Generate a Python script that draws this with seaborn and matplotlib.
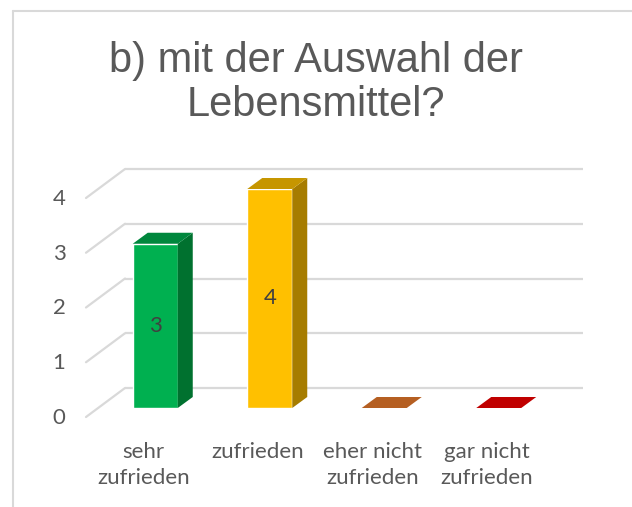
import numpy as np
import pandas as pd
import matplotlib
matplotlib.use('Agg')
import matplotlib.pyplot as plt
import seaborn as sns
from matplotlib.patches import Polygon
from matplotlib.lines import Line2D

# data
categories = ['sehr\nzufrieden', 'zufrieden', 'eher nicht\nzufrieden', 'gar nicht\nzufrieden']
values = [3, 4, 0, 0]
front_colors = ['#00B050', '#FFC000', '#C55A11', '#C00000']
top_colors = ['#00873D', '#C69600', '#B55F22', '#C00000']
side_colors = ['#00712F', '#A67C00', '#8A4010', '#900000']
y_ticks = [0, 1, 2, 3, 4]
title = 'b) mit der Auswahl der\nLebensmittel?'

sns.set_theme(style='white')
plt.rcParams['font.family'] = ['Lato', 'DejaVu Sans']

W, H = 632, 507
fig = plt.figure(figsize=(W / 100, H / 100), dpi=100)

# pixel scale of the bar plane
xu = 114.5   # px per category
yu = 54.75   # px per unit value
ymax = 4.6
ax = fig.add_axes([98 / W, (H - 408) / H, 4 * xu / W, ymax * yu / H])

df = pd.DataFrame({'cat': categories, 'val': values})
bw = 45 / xu
sns.barplot(data=df, x='cat', y='val', hue='cat', palette=front_colors,
            width=bw, saturation=1, legend=False, ax=ax, zorder=3)
ax.set_xlim(-0.5, 3.5)
ax.set_ylim(0, ymax)
ax.axis('off')

gc = '#D9D9D9'
# back wall gridlines + diagonal floor ticks
bx, by = 27 / xu, 20 / yu
fx, fy = -12 / xu, -9 / yu
for v in y_ticks:
    ax.plot([-0.5 + bx, 3.5 + bx], [v + by, v + by], color=gc, lw=1.6,
            zorder=1, clip_on=False, solid_capstyle='butt')
    ax.plot([-0.5 + fx, -0.5 + bx], [v + fy, v + by], color=gc, lw=1.6,
            zorder=1, clip_on=False)
    ax.annotate(str(v), (-0.5, v), xytext=(-39, -10), textcoords='offset pixels',
                ha='center', va='center', fontsize=16, color='#595959')

# 3d sides and tops
dx, dy = 15 / xu, 11 / yu
for i, h in enumerate(values):
    l, r = i - bw / 2, i + bw / 2
    if h > 0:
        ax.add_patch(Polygon([(r, 0), (r + dx, dy), (r + dx, h + dy), (r, h)],
                             closed=True, fc=side_colors[i], ec='none', zorder=3, clip_on=False))
    ax.add_patch(Polygon([(l, h), (r, h), (r + dx, h + dy), (l + dx, h + dy)],
                         closed=True, fc=top_colors[i], ec='none', zorder=3, clip_on=False))
    if h > 0:
        ax.text(i, h / 2, str(h), ha='center', va='center', fontsize=16,
                color='#404040', zorder=5)
    ax.annotate(categories[i], (i, 0), xytext=(-12, -34), textcoords='offset pixels',
                ha='center', va='top', fontsize=16, color='#595959',
                linespacing=1.35)

fig.text(0.5, 1 - 83 / H, title, ha='center', va='center', fontsize=30,
         color='#595959', family=['Liberation Sans', 'DejaVu Sans'], linespacing=1.15)

# chart border (top and left only, rest cropped)
fig.add_artist(Line2D([13 / W, 1], [1 - 11 / H, 1 - 11 / H], color=gc, lw=1.5))
fig.add_artist(Line2D([13 / W, 13 / W], [1 - 11 / H, 0], color=gc, lw=1.5))

fig.savefig('out.png', dpi=100)
